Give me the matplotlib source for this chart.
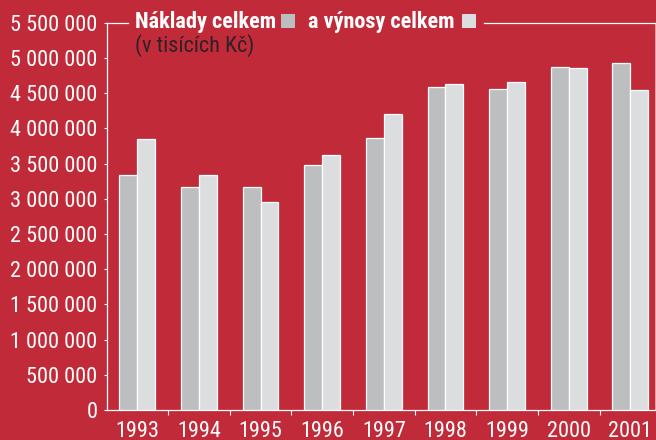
import matplotlib
matplotlib.use("Agg")
import matplotlib.pyplot as plt
from matplotlib.patches import Rectangle
from matplotlib.lines import Line2D
from matplotlib.ticker import FuncFormatter, FixedLocator
import numpy as np

years = ["1993", "1994", "1995", "1996", "1997", "1998", "1999", "2000", "2001"]
naklady = [3337000, 3167000, 3167000, 3479000, 3863000, 4587000, 4558000, 4875000, 4923000]
vynosy = [3848000, 3337000, 2954000, 3621000, 4203000, 4629000, 4658000, 4853000, 4540000]
yticks = [0, 500000, 1000000, 1500000, 2000000, 2500000, 3000000, 3500000,
          4000000, 4500000, 5000000, 5500000]
title1 = "Náklady celkem"
title2 = "a výnosy celkem"
subtitle = "(v tisících Kč)"

BG = "#C12A38"
GRAY = "#BDBEC0"
LIGHT = "#DCDDDF"
FAM = ["Roboto Condensed", "DejaVu Sans"]
plt.rcParams["font.family"] = FAM
FS = 16

W, H = 656, 440
fig = plt.figure(figsize=(W / 100, H / 100), dpi=100)
fig.patch.set_facecolor(BG)

left_px, right_px, top_px, bot_px = 106.7, 655.0, 22.7, 410.0
ax = fig.add_axes([left_px / W, 1 - bot_px / H, (right_px - left_px) / W, (bot_px - top_px) / H])
ax.set_facecolor(BG)

x = np.arange(len(years))
bw = 0.29
ax.bar(x - bw / 2, naklady, width=bw, color=GRAY, edgecolor="white", linewidth=0.9, zorder=3)
ax.bar(x + bw / 2, vynosy, width=bw, color=LIGHT, edgecolor="white", linewidth=0.9, zorder=3)

ax.set_xlim(-0.497, 8.40)
ax.set_ylim(0, 5500000)

ax.yaxis.set_major_locator(FixedLocator(yticks))
ax.yaxis.set_major_formatter(FuncFormatter(lambda v, p: f"{int(v):,}".replace(",", " ")))
ax.tick_params(axis="y", colors="white", labelcolor="white", labelsize=FS, length=2.2,
               width=0.8, pad=4.5, direction="out")

ax.set_xticks(x)
ax.set_xticklabels(years)
ax.tick_params(axis="x", which="major", length=0, labelsize=FS, labelcolor="white", pad=8)
ax.set_xticks(x[:-1] + 0.5, minor=True)
ax.tick_params(axis="x", which="minor", length=3.5, width=0.8, color="white", direction="out")

for s in ["left", "bottom", "right"]:
    ax.spines[s].set_color("white")
    ax.spines[s].set_linewidth(0.9)
ax.spines["right"].set_color("#E8B8BE")
ax.spines["right"].set_linewidth(0.6)
ax.spines["top"].set_visible(False)

# title row
base_y = 1 - 28.3 / H
sq_w, sq_h = 14.5, 14
sq_bottom = (H - 28.3) / H
t1 = fig.text(135 / W, base_y, title1, color="white", fontsize=FS, fontweight="bold",
              va="baseline", ha="left")
fig.canvas.draw()
r = fig.canvas.get_renderer()
bb = t1.get_window_extent(r)
sx1 = bb.x1 + 4.5
fig.patches.append(Rectangle((sx1 / W, sq_bottom), sq_w / W, sq_h / H,
                             transform=fig.transFigure, facecolor=GRAY, edgecolor="none",
                             figure=fig))
t2 = fig.text((sx1 + sq_w + 13) / W, base_y, title2, color="white", fontsize=FS,
              fontweight="bold", va="baseline", ha="left")
fig.canvas.draw()
bb2 = t2.get_window_extent(r)
sx2 = bb2.x1 + 7
fig.patches.append(Rectangle((sx2 / W, sq_bottom), sq_w / W, sq_h / H,
                             transform=fig.transFigure, facecolor=LIGHT, edgecolor="none",
                             figure=fig))
ly = 1 - 22.7 / H
fig.lines.append(Line2D([left_px / W, 128 / W], [ly, ly], transform=fig.transFigure,
                        color="white", linewidth=0.9, figure=fig))
fig.lines.append(Line2D([(sx2 + sq_w + 8) / W, right_px / W], [ly, ly], transform=fig.transFigure,
                        color="white", linewidth=0.9, figure=fig))

fig.text(135 / W, 1 - 52 / H, subtitle, color="#2E2226", fontsize=FS, va="baseline", ha="left")

fig.savefig("out.png", dpi=100, facecolor=BG)
